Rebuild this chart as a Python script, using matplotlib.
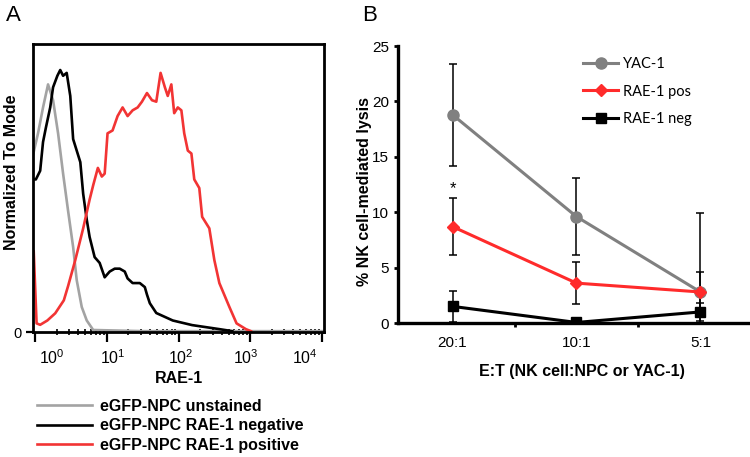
import matplotlib
matplotlib.use("Agg")
import matplotlib.pyplot as plt
import matplotlib.transforms as mtransforms
import numpy as np

plt.rcParams['font.family'] = ['Liberation Sans', 'DejaVu Sans']
plt.rcParams['mathtext.fontset'] = 'custom'
plt.rcParams['mathtext.rm'] = 'Liberation Sans'
plt.rcParams['mathtext.default'] = 'regular'

# ---- panel A: RAE-1 histograms (x = log10 intensity, y = % of mode)
unstained_logx = [-0.03, 0.04, 0.11, 0.18, 0.25, 0.32, 0.39, 0.46, 0.53, 0.58,
                  0.65, 0.72, 0.81, 1.5, 4.03]
unstained_pct = [61.5, 69, 78, 86, 80.5, 69, 55, 42, 29.5, 18,
                 8.7, 4, 0.7, 0.3, 0.3]

negative_logx = [-0.03, 0.01, 0.07, 0.11, 0.15, 0.21, 0.25, 0.31, 0.35, 0.39,
                 0.44, 0.49, 0.53, 0.58, 0.63, 0.67, 0.72, 0.76, 0.83, 0.90,
                 0.97, 1.04, 1.11, 1.18, 1.25, 1.29, 1.36, 1.46, 1.53, 1.56,
                 1.60, 1.69, 1.92, 2.19, 2.57, 2.75]
negative_pct = [53, 53, 56, 66, 71, 78, 85, 89, 91, 89,
                90, 82, 67, 63, 59, 48, 39, 33, 26, 24,
                19, 21, 22, 22, 21, 18.6, 17, 17, 15.6, 13,
                10, 6.6, 4, 2.4, 1, 0.3]

positive_logx = [-0.02, 0.02, 0.07, 0.17, 0.28, 0.40, 0.46, 0.56, 0.67, 0.76,
                 0.81, 0.875, 0.93, 0.97, 1.01, 1.08, 1.15, 1.22, 1.29, 1.36,
                 1.43, 1.49, 1.56, 1.63, 1.69, 1.75, 1.81, 1.85, 1.90, 1.94,
                 1.99, 2.04, 2.08, 2.13, 2.18, 2.22, 2.29, 2.33, 2.43, 2.50,
                 2.57, 2.71, 2.81, 2.94, 3.01]
positive_pct = [28, 3, 2.5, 4, 6.5, 11, 16, 25, 36, 46,
                51, 57, 54, 55, 69, 70, 75, 78, 75, 77,
                78, 80, 83, 80.5, 80, 90, 85, 82, 86, 76,
                78, 77, 69, 63, 62, 53, 50, 40, 36, 25,
                17, 8.7, 3, 1, 0.3]

hist_labels = ["eGFP-NPC unstained", "eGFP-NPC RAE-1 negative",
               "eGFP-NPC RAE-1 positive"]
decades = [1, 10, 100, 1000, 10000]
decade_labels = ["$10^{0}$", "$10^{1}$", "$10^{2}$", "$10^{3}$", "$10^{4}$"]

# ---- panel B: NK cell lysis
ratios = ["20:1", "10:1", "5:1"]
yac1 = [18.8, 9.6, 2.8]
yac1_err = [4.6, 3.5, 7.1]
rae_pos = [8.7, 3.6, 2.8]
rae_pos_err = [2.6, 1.9, 1.8]
rae_neg = [1.5, 0.05, 1.0]
rae_neg_err = [1.4, 0.3, 0.8]

fig = plt.figure(figsize=(7.5, 4.57), dpi=100)

# panel A
axA = fig.add_axes([0.044, 0.2735, 0.388, 0.630])
hist_colors = ["#a3a3a3", "black", "#f23434"]
lines = []
for lx, pct, col in zip([unstained_logx, negative_logx, positive_logx],
                        [unstained_pct, negative_pct, positive_pct],
                        hist_colors):
    ln, = axA.plot(10 ** np.array(lx), pct, color=col, lw=1.9)
    lines.append(ln)
axA.set_xscale('log')
axA.set_xlim(10 ** -0.03, 10 ** 4.03)
axA.set_ylim(0, 100)
for sp in axA.spines.values():
    sp.set_linewidth(2.0)
axA.set_xticks(decades)
axA.set_xticklabels([])
# decade labels: the original puts them a bit inward of their ticks
label_tr = mtransforms.blended_transform_factory(axA.transData, axA.transAxes)
for val, lab, dx in zip(decades, decade_labels, [12, 4, 2, -3, -12]):
    axA.text(val, -0.058, lab, fontsize=11.5, ha='center', va='top',
             transform=label_tr + mtransforms.ScaledTranslation(dx / 72, 0,
                                                                fig.dpi_scale_trans))
axA.tick_params(axis='x', which='major', direction='out', length=7, width=1.6)
axA.tick_params(axis='x', which='minor', direction='inout', length=5, width=1.2)
axA.set_yticks([0])
axA.tick_params(axis='y', direction='out', length=5, width=1.6, labelsize=10.5)
axA.set_xlabel("RAE-1", fontsize=11.5, fontweight='bold')
axA.xaxis.set_label_coords(0.5, -0.135)
axA.set_ylabel("Normalized To Mode", fontsize=11.5, fontweight='bold')
axA.yaxis.set_label_coords(-0.047, 0.556)

fig.legend(lines, hist_labels, loc='upper left', bbox_to_anchor=(0.049, 0.128),
           frameon=False, handlelength=3.45, handletextpad=0.5, labelspacing=0.3,
           borderpad=0, borderaxespad=0,
           prop={'weight': 'bold', 'size': 11.5})

fig.text(0.008, 0.965, "A", fontsize=16, va='center', ha='left')

# panel B
axB = fig.add_axes([0.5307, 0.2932, 0.466, 0.606])
x = np.arange(len(ratios))
for vals, errs in [(yac1, yac1_err), (rae_pos, rae_pos_err), (rae_neg, rae_neg_err)]:
    axB.errorbar(x, vals, yerr=errs, fmt='none', ecolor='black', elinewidth=1.1,
                 capsize=3, capthick=1.1, zorder=1)
axB.plot(x, yac1, color='#808080', lw=2.2, marker='o', ms=8, label="YAC-1", zorder=3)
axB.plot(x, rae_pos, color='#ff2b2b', lw=2.2, marker='D', ms=6, label="RAE-1 pos", zorder=3)
axB.plot(x, rae_neg, color='black', lw=2.2, marker='s', ms=6.5, label="RAE-1 neg", zorder=3)
axB.text(x[0], rae_pos[0] + rae_pos_err[0] + 0.8, "*", ha='center', va='center',
         fontsize=12)

axB.set_xlim(-0.44, 2.38)
axB.set_ylim(0, 25)
axB.set_yticks(np.arange(0, 26, 5))
axB.set_xticks(x)
axB.set_xticklabels(ratios, fontsize=11)
axB.set_xticks([0.5, 1.5], minor=True)
axB.tick_params(axis='x', which='major', length=0, pad=9)
axB.tick_params(axis='x', which='minor', direction='out', length=3, width=2)
axB.tick_params(axis='y', direction='out', length=3, width=2, labelsize=11)
axB.spines['top'].set_visible(False)
axB.spines['right'].set_visible(False)
axB.spines['left'].set_linewidth(2.4)
axB.spines['bottom'].set_linewidth(2.4)
axB.set_xlabel("E:T (NK cell:NPC or YAC-1)", fontsize=11.5, fontweight='bold')
axB.xaxis.set_label_coords(0.526, -0.148)
axB.set_ylabel("% NK cell-mediated lysis", fontsize=11.5, fontweight='bold')
axB.yaxis.set_label_coords(-0.074, 0.476)
axB.legend(loc='upper left', bbox_to_anchor=(0.777, 0.876),
           bbox_transform=fig.transFigure, frameon=False, handlelength=2.45,
           handletextpad=0.3, labelspacing=0.95, borderpad=0, borderaxespad=0,
           prop={'family': ['Lato', 'DejaVu Sans'], 'size': 10.5})

fig.text(0.483, 0.965, "B", fontsize=16, va='center', ha='left')

fig.savefig("out.png", dpi=100)
